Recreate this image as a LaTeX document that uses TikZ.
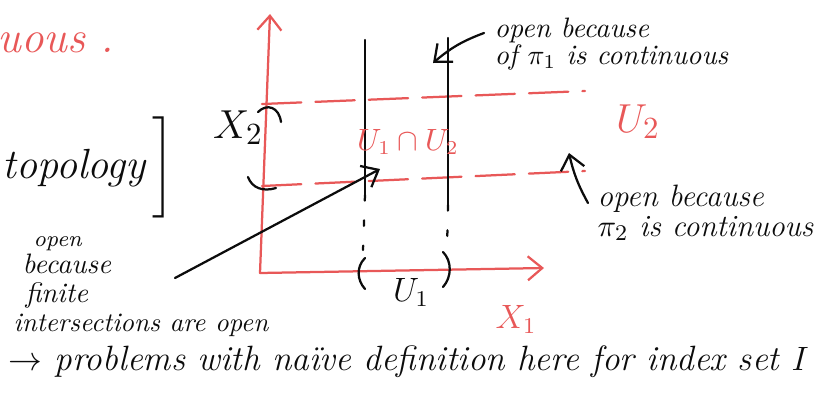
\documentclass[tikz,border=0pt]{standalone}
\usepackage{amsmath,amssymb}
\usepackage{fontspec}
\usepackage{tikz}
\usetikzlibrary{arrows.meta,positioning,calc}
\definecolor{penRed}{RGB}{232,88,88}
\definecolor{penInk}{RGB}{12,12,12}
\tikzset{
  ink/.style={draw=penInk, line width=0.8pt, line cap=round},
  redink/.style={draw=penRed, line width=0.8pt, line cap=round},
  axis/.style={redink, -{Straight Barb[length=1.8mm, width=3mm]}},
  guide/.style={redink, dash pattern=on 14pt off 5pt},
  tickline/.style={ink, dash pattern=on 2pt off 7pt},
  pointer/.style={ink, -{Straight Barb[length=1.8mm, width=3mm]}},
  note/.style={inner sep=0pt, text=penInk},
  rednote/.style={note, text=penRed}
}

\begin{document}
\begin{tikzpicture}[x=0.0125cm, y=-0.0125cm]
\useasboundingbox (0,0) rectangle (824,394);
% axes X1 and X2
\coordinate (o) at (260,273);
\coordinate (xEnd) at (544,268);
\coordinate (yEnd) at (270,14);
\draw[axis] (o) -- (xEnd);
\draw[axis] (o) -- (yEnd);
% U2 strip
\coordinate (hiL) at (262,104);
\coordinate (hiR) at (585,91);
\coordinate (loL) at (262,186);
\coordinate (loR) at (585,171);
\draw[guide] (hiL) -- (hiR);
\draw[guide] (loL) -- (loR);
% U1 strip
\coordinate (aTop) at (365,40);
\coordinate (aMid) at (365,195);
\coordinate (aBot) at (363,250);
\coordinate (bTop) at (448,38);
\coordinate (bMid) at (448,205);
\coordinate (bBot) at (447,250);
\draw[ink] (aTop) -- (aMid);
\draw[tickline] (aMid) -- (aBot);
\draw[ink] (bTop) -- (bMid);
\draw[tickline] (bMid) -- (bBot);
% interval marks
\draw[ink] (258,112) .. controls (267,103) and (279,107) .. (281,122);
\draw[ink] (248,177) .. controls (252,188) and (263,192) .. (276,188);
\draw[ink] (365,258) .. controls (356,267) and (357,280) .. (365,289);
\draw[ink] (443,252) .. controls (452,261) and (452,277) .. (443,287);
% labels
\node[rednote, anchor=base west, font=\fontsize{16}{18}\selectfont\itshape] (uous) at (-3,52) {uous\,\,.};
\node[note, anchor=base west, font=\fontsize{15}{18}\selectfont\itshape] (topo) at (2,178) {topology$\,\bigg]$};
\node[note, font=\fontsize{15}{18}\selectfont] (xtwo) at (238,128) {$X_2$};
\node[rednote, font=\fontsize{10.5}{12}\selectfont] (capset) at (408,142) {$U_1\cap U_2$};
\node[rednote, font=\fontsize{15}{18}\selectfont] (utwo) at (638,122) {$U_2$};
\node[note, font=\fontsize{12}{14}\selectfont] (uone) at (411,292) {$U_1$};
\node[rednote, font=\fontsize{12}{14}\selectfont] (xone) at (516,319) {$X_1$};
\node[note, anchor=base west, font=\fontsize{10}{10}\selectfont\itshape] (pioneA) at (494,37) {open because};
\node[note, anchor=base west, font=\fontsize{10}{10}\selectfont\itshape] (pioneB) at (494,64) {of $\pi_1$ is continuous};
\node[note, anchor=base west, font=\fontsize{11}{12}\selectfont\itshape] (pitwoA) at (597,206) {open because};
\node[note, anchor=base west, font=\fontsize{11}{12}\selectfont\itshape] (pitwoB) at (597,236) {$\pi_2$ is continuous};
\node[note, anchor=base west, font=\fontsize{8}{9}\selectfont\itshape] (finA) at (33,246) {open};
\node[note, anchor=base west, font=\fontsize{10}{12}\selectfont\itshape] (finB) at (22,273) {because};
\node[note, anchor=base west, font=\fontsize{10}{12}\selectfont\itshape] (finC) at (25,302) {finite};
\node[note, anchor=base west, font=\fontsize{9.5}{11}\selectfont\itshape] (finD) at (13,331) {intersections are open};
\node[note, anchor=base west, font=\fontsize{12.5}{14}\selectfont\itshape] (naive) at (8,370) {$\to$ problems with naïve definition here for index set $I$};
% pointers
\coordinate (finTail) at (175,278);
\coordinate (capTip) at (380,169);
\coordinate (pioneTail) at (484,33);
\coordinate (pioneTip) at (433,63);
\coordinate (pitwoTail) at (588,203);
\coordinate (pitwoTip) at (569,153);
\draw[pointer] (finTail) -- (capTip);
\draw[pointer] (pioneTail) to[bend right=10] (pioneTip);
\draw[pointer] (pitwoTail) to[bend left=8] (pitwoTip);
\end{tikzpicture}
\end{document}
